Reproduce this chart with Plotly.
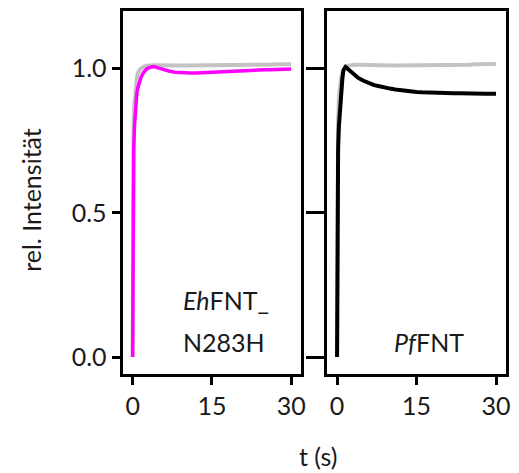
import plotly.graph_objects as go

# time points (s)
t = [0, 0.05, 0.1, 0.2, 0.35, 0.6, 0.8, 1.0, 1.2, 1.4, 1.6, 2.0, 2.6, 3.3, 4, 5, 6, 7, 8, 9, 10,
     11, 12, 13, 14, 15, 16, 17, 18, 19, 20, 21, 22, 23, 24, 25, 26, 27, 28, 29, 30]

# EhFNT_N283H (magenta) and its reference (grey)
eh_mut = [0.0, 0.5, 0.62, 0.72, 0.80, 0.88, 0.916, 0.935, 0.95, 0.96, 0.97, 0.985, 0.998, 1.005, 1.007,
          1.002, 0.996, 0.991, 0.988, 0.986, 0.985, 0.985, 0.985, 0.986, 0.986, 0.987, 0.988, 0.989,
          0.990, 0.991, 0.992, 0.993, 0.994, 0.994, 0.995, 0.996, 0.996, 0.997, 0.998, 0.998, 0.999]
eh_ref = [0.0, 0.55, 0.70, 0.82, 0.88, 0.94, 0.965, 0.985, 0.993, 0.998, 1.0, 1.006, 1.010, 1.012, 1.012,
          1.012, 1.011, 1.011, 1.011, 1.011, 1.011, 1.011, 1.011, 1.011, 1.012, 1.012, 1.012, 1.012,
          1.012, 1.013, 1.013, 1.013, 1.013, 1.014, 1.014, 1.014, 1.014, 1.015, 1.015, 1.015, 1.015]

# PfFNT (black) and its reference (grey)
pf_wt = [0.0, 0.5, 0.62, 0.72, 0.80, 0.88, 0.916, 0.965, 0.995, 1.005, 1.006, 1.0, 0.99, 0.978, 0.968,
         0.958, 0.95, 0.943, 0.939, 0.934, 0.931, 0.928, 0.925, 0.923, 0.921, 0.919, 0.918, 0.917,
         0.917, 0.916, 0.916, 0.915, 0.915, 0.915, 0.914, 0.914, 0.914, 0.913, 0.913, 0.913, 0.913]
pf_ref = [0.0, 0.5, 0.70, 0.82, 0.90, 0.95, 0.97, 0.985, 0.995, 1.0, 1.005, 1.010, 1.013, 1.014, 1.014,
          1.013, 1.013, 1.012, 1.012, 1.012, 1.011, 1.011, 1.011, 1.011, 1.011, 1.011, 1.012, 1.012,
          1.012, 1.013, 1.013, 1.013, 1.014, 1.014, 1.014, 1.014, 1.015, 1.015, 1.015, 1.016, 1.016]

y_ticks = [0.0, 0.5, 1.0]
y_labels = ["0.0", "0.5", "1.0"]
x_ticks = [0, 15, 30]

FONT = "Lato"
TXT = "#1a1a1a"

# page body adds an 8px margin, so work in window pixels and shift
OFF = 8
W, H = 519 - OFF, 473 - OFF


def px(x):
    return (x - OFF) / W


def py(y):
    return 1 - (y - OFF) / H


fig = go.Figure()

fig.add_trace(go.Scatter(x=t, y=eh_ref, mode="lines", line=dict(color="#c3c3c3", width=4),
                         xaxis="x", yaxis="y", showlegend=False))
fig.add_trace(go.Scatter(x=t, y=eh_mut, mode="lines", line=dict(color="#ff00ff", width=3.5),
                         xaxis="x", yaxis="y", showlegend=False))
fig.add_trace(go.Scatter(x=t, y=pf_ref, mode="lines", line=dict(color="#c3c3c3", width=4),
                         xaxis="x2", yaxis="y2", showlegend=False))
fig.add_trace(go.Scatter(x=t, y=pf_wt, mode="lines", line=dict(color="#000000", width=4),
                         xaxis="x2", yaxis="y2", showlegend=False))

ydom = [py(373.5), py(11)]

xcommon = dict(range=[-1.9, 31.9], tickvals=x_ticks, ticks="outside", ticklen=8, tickwidth=2.5,
               tickcolor="black", showline=True, linewidth=3, linecolor="black", mirror=True,
               showgrid=False, zeroline=False, tickfont=dict(family=FONT, size=25, color=TXT))
ycommon = dict(range=[-0.057, 1.2], tickvals=y_ticks, ticks="outside", tickwidth=2.5,
               tickcolor="black", showline=True, linewidth=3, linecolor="black", mirror=True,
               showgrid=False, zeroline=False, tickfont=dict(family=FONT, size=25, color=TXT))

fig.update_layout(
    width=W, height=H,
    margin=dict(l=0, r=0, t=0, b=0),
    paper_bgcolor="white", plot_bgcolor="white",
    xaxis=dict(domain=[px(123.5), px(303.5)], anchor="y", **xcommon),
    xaxis2=dict(domain=[px(329.5), px(510)], anchor="y2", **xcommon),
    yaxis=dict(domain=ydom, anchor="x", ticklen=8, ticktext=y_labels, **ycommon),
    yaxis2=dict(domain=ydom, anchor="x2", ticklen=18, showticklabels=False, **ycommon),
    annotations=[
        dict(text="<i>Eh</i>FNT_", x=px(182), y=py(300), xref="paper", yref="paper",
             xanchor="left", yanchor="middle", showarrow=False,
             font=dict(family=FONT, size=25, color=TXT)),
        dict(text="N283H", x=px(182), y=py(342), xref="paper", yref="paper",
             xanchor="left", yanchor="middle", showarrow=False,
             font=dict(family=FONT, size=25, color=TXT)),
        dict(text="<i>Pf</i>FNT", x=px(432), y=py(342), xref="paper", yref="paper",
             xanchor="center", yanchor="middle", showarrow=False,
             font=dict(family=FONT, size=25, color=TXT)),
        dict(text="t (s)", x=px(321), y=py(456), xref="paper", yref="paper",
             xanchor="center", yanchor="middle", showarrow=False,
             font=dict(family=FONT, size=25, color=TXT)),
        dict(text="rel. Intensität", x=px(31), y=py(200), xref="paper", yref="paper",
             xanchor="center", yanchor="middle", showarrow=False, textangle=-90,
             font=dict(family=FONT, size=25, color=TXT)),
    ],
)

fig.write_html("out.html")
